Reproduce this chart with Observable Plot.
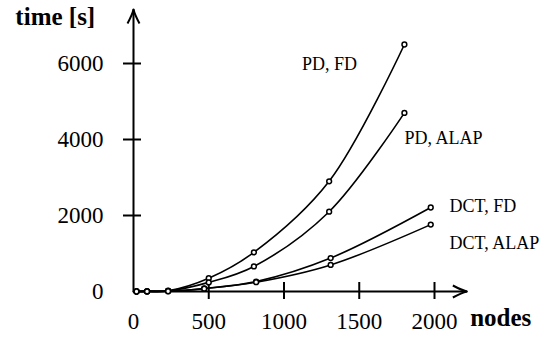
<!DOCTYPE html>
<html>
<head>
<meta charset="utf-8">
<script src="https://cdn.jsdelivr.net/npm/d3@7"></script>
<script src="https://cdn.jsdelivr.net/npm/@observablehq/plot@0.6"></script>
<style>
  html, body { margin: 0; padding: 0; background: #fff; }
  #chart svg { display: block; }
</style>
</head>
<body>
<div id="chart"></div>
<script>
// Data
const seriesNames = ["PD, FD", "PD, ALAP", "DCT, FD", "DCT, ALAP"];
const pdFdNodes   = [20, 90, 230, 500, 800, 1300, 1800];
const pdFdTime    = [0, 5, 20, 350, 1030, 2900, 6500];
const pdAlapNodes = [20, 90, 230, 500, 800, 1300, 1800];
const pdAlapTime  = [0, 5, 15, 240, 660, 2100, 4700];
const dctFdNodes   = [20, 90, 230, 470, 815, 1310, 1975];
const dctFdTime    = [0, 3, 8, 80, 260, 880, 2210];
const dctAlapNodes = [20, 90, 230, 470, 815, 1310, 1975];
const dctAlapTime  = [0, 3, 6, 75, 245, 700, 1760];

const xTicks = [500, 1000, 1500, 2000];
const xTickLabels = [0, 500, 1000, 1500, 2000];
const yTicks = [2000, 4000, 6000];
const yTickLabels = [0, 2000, 4000, 6000];

// label anchors (data units)
const labelText = ["PD, FD", "PD, ALAP", "DCT, FD", "DCT, ALAP"];
const labelX = [1120, 1800, 2100, 2100];
const labelY = [5840, 3870, 2080, 1120];

const xAxisEnd = 2215;
const yAxisEnd = 7420;

const rows = [];
[[pdFdNodes, pdFdTime], [pdAlapNodes, pdAlapTime], [dctFdNodes, dctFdTime], [dctAlapNodes, dctAlapTime]]
  .forEach(([xs, ys], i) => xs.forEach((x, j) => rows.push({series: seriesNames[i], x, y: ys[j]})));

const labels = labelText.map((t, i) => ({t, x: labelX[i], y: labelY[i]}));

const arrowHead = {
  draw(ctx) {
    ctx.moveTo(-14, -6);
    ctx.quadraticCurveTo(-5, -1.2, 0, 0);
    ctx.quadraticCurveTo(-5, 1.2, -14, 6);
  }
};

const font = "'Liberation Serif', 'Times New Roman', serif";

const chart = Plot.plot({
  width: 555,
  height: 339,
  marginLeft: 133,
  marginRight: 121,
  marginTop: 63,
  marginBottom: 48,
  style: {fontFamily: font, background: "white", color: "black"},
  x: {domain: [0, 2000], axis: null},
  y: {domain: [0, 6000], axis: null},
  marks: [
    // axes lines
    Plot.line([{x: 0, y: 0}, {x: xAxisEnd, y: 0}], {x: "x", y: "y", stroke: "black", strokeWidth: 2}),
    Plot.line([{x: 0, y: 0}, {x: 0, y: yAxisEnd}], {x: "x", y: "y", stroke: "black", strokeWidth: 2}),
    Plot.dot([{x: xAxisEnd, y: 0}], {x: "x", y: "y", symbol: arrowHead, fill: "none", stroke: "black", strokeWidth: 2, r: 5}),
    Plot.dot([{x: 0, y: yAxisEnd}], {x: "x", y: "y", symbol: arrowHead, rotate: -90, fill: "none", stroke: "black", strokeWidth: 2, r: 5}),
    // ticks crossing the axes
    Plot.ruleX(xTicks, {x: d => d, y1: 0, y2: 0, insetTop: -9, insetBottom: -8, stroke: "black", strokeWidth: 2}),
    Plot.ruleY(yTicks, {y: d => d, x1: 0, x2: 0, insetLeft: -10, insetRight: -8, stroke: "black", strokeWidth: 2}),
    // tick labels
    Plot.text(xTickLabels, {x: d => d, y: 0, text: d => String(d), dy: 37, textAnchor: "middle", lineAnchor: "bottom", fontSize: 23, fontFamily: font}),
    Plot.text(yTickLabels, {x: 0, y: d => d, text: d => String(d), dx: -30, textAnchor: "end", lineAnchor: "middle", fontSize: 23, fontFamily: font}),
    // curves
    Plot.line(rows, {x: "x", y: "y", z: "series", curve: "catmull-rom", stroke: "black", strokeWidth: 1.6}),
    Plot.dot(rows, {x: "x", y: "y", r: 2.4, fill: "white", stroke: "black", strokeWidth: 1.5}),
    // series labels
    Plot.text(labels, {x: "x", y: "y", text: "t", textAnchor: "start", lineAnchor: "bottom", fontSize: 18, fontFamily: font}),
    // axis titles
    Plot.text(["time [s]"], {x: -785, y: 7010, text: d => d, textAnchor: "start", lineAnchor: "bottom", fontSize: 25, fontWeight: "bold", letterSpacing: 1.2, fontFamily: font}),
    Plot.text(["nodes"], {x: 2237, y: -905, text: d => d, textAnchor: "start", lineAnchor: "bottom", fontSize: 25, fontWeight: "bold", letterSpacing: 0.5, fontFamily: font})
  ]
});
document.getElementById("chart").appendChild(chart);
</script>
</body>
</html>
